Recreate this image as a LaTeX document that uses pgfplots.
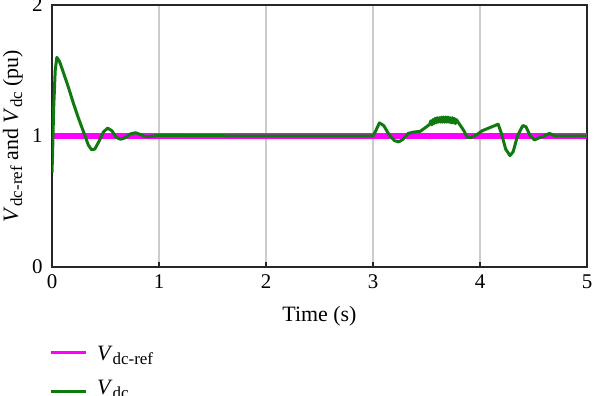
\documentclass[border=0pt]{standalone}
\usepackage{pgfplots}
\pgfplotsset{compat=1.18}
\usepackage{fontspec}
\setmainfont{Liberation Serif}
\definecolor{mag}{RGB}{255,0,255}
\definecolor{grn}{RGB}{16,122,16}
\newcommand{\Vs}[1]{\textit{V}\raisebox{-4bp}{\fontsize{17}{18}\selectfont #1}}
\begin{document}
\fontsize{22}{26}\selectfont
\begin{tikzpicture}
\path[use as bounding box] (-52bp,-129bp) rectangle (548bp,267bp);
\begin{axis}[
  at={(0,0)}, anchor=south west,
  scale only axis, width=535bp, height=262bp,
  xmin=0, xmax=5, ymin=0, ymax=2,
  xtick={0,1,2,3,4,5}, ytick={0,1,2},
  xmajorgrids, grid style={line width=1.6bp, color=black!20},
  axis line style={line width=1.6bp, color=black!85},
  tick style={black!85, line width=1.2bp}, tick align=inside,
  major tick length=5bp,
  ytick pos=left, xtick pos=bottom,
  /pgf/number format/assume math mode=true,
  ticklabel style={font=\fontsize{21}{24}\selectfont},
  yticklabel style={xshift=-2bp},
  label style={font=\fontsize{22}{26}\selectfont},
  xlabel={Time (s)},
  ylabel={\Vs{dc-ref} and \Vs{dc} (pu)},
  xlabel style={yshift=-3bp},
  ylabel style={at={(axis description cs:-0.073,0.5)}, anchor=center, rotate=0},
  legend style={at={(0,-0.295)}, anchor=north west, draw=none, fill=none,
    inner sep=0pt, font=\fontsize{22}{26}\selectfont, row sep=12bp,
    column sep=8bp, xshift=-3bp,
    legend cell align=left, nodes={inner sep=2bp}},
]
\addplot[mag, line width=6.5bp,
  legend image code/.code={\draw[mag, line width=2.5bp] (0bp,3bp) -- (35bp,3bp);}]
  coordinates {(0,1) (5,1)};
\addlegendentry{\Vs{dc-ref}}
\addplot[grn, line width=3bp, line join=round,
  legend image code/.code={\draw[grn, line width=3bp] (0bp,-3bp) -- (35bp,-3bp);}]
  coordinates {
(0,0.72) (0.005,0.85) (0.015,1.2) (0.03,1.5) (0.045,1.6) (0.07,1.57) (0.1,1.50)
(0.15,1.38) (0.2,1.25) (0.25,1.13) (0.3,1.02) (0.34,0.93) (0.37,0.895)
(0.40,0.90) (0.44,0.96) (0.48,1.03) (0.52,1.06) (0.56,1.04) (0.60,0.99)
(0.64,0.975) (0.68,0.985) (0.73,1.015) (0.78,1.025) (0.83,1.01) (0.88,0.995)
(0.95,1.0) (1.0,1.005) (2.0,1.0) (3.0,1.0)
(3.02,1.03) (3.06,1.1) (3.1,1.08) (3.15,1.01) (3.2,0.965) (3.24,0.955)
(3.28,0.975) (3.33,1.02) (3.38,1.03) (3.44,1.035) (3.5,1.07)
(3.53,1.09) (3.54,1.115) (3.55,1.085) (3.56,1.125) (3.57,1.095) (3.58,1.135)
(3.59,1.10) (3.60,1.14) (3.61,1.105) (3.62,1.14) (3.63,1.105) (3.64,1.145)
(3.65,1.105) (3.66,1.145) (3.67,1.105) (3.68,1.145) (3.69,1.105) (3.70,1.145)
(3.71,1.105) (3.72,1.14) (3.73,1.10) (3.74,1.14) (3.75,1.10) (3.76,1.135)
(3.77,1.095) (3.78,1.125)
(3.8,1.10) (3.85,1.04) (3.88,0.99) (3.92,0.99) (3.97,1.01) (4.02,1.04)
(4.08,1.06) (4.14,1.08) (4.17,1.09) (4.2,1.02) (4.24,0.9) (4.28,0.85)
(4.31,0.88) (4.35,1.0) (4.40,1.08) (4.43,1.07) (4.47,1.0) (4.51,0.97)
(4.55,0.985) (4.6,1.0) (4.65,1.02) (4.7,1.0) (4.8,1.0) (5.0,1.0)};
\addlegendentry{\Vs{dc}}
\end{axis}
\end{tikzpicture}
\end{document}
